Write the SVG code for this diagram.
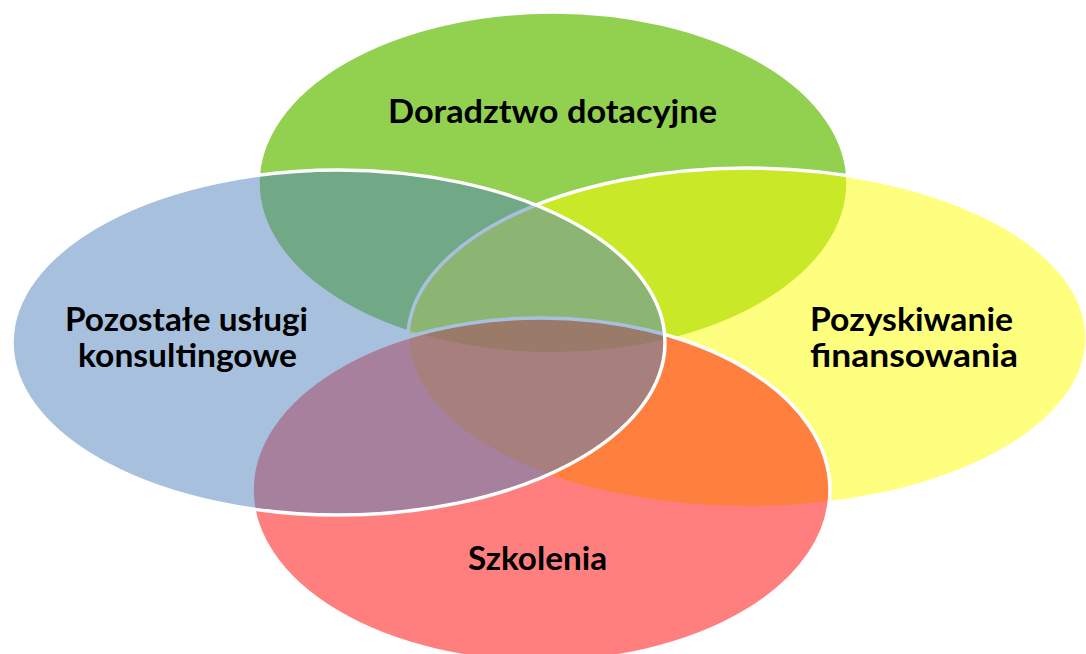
<svg xmlns="http://www.w3.org/2000/svg" width="1086" height="654" viewBox="0 0 1086 654">
  <style>
    .shape { stroke: #FFFFFF; stroke-width: 3.5; }
    .label { font-family: Lato, "Open Sans", "Liberation Sans", sans-serif; font-weight: 700; font-size: 33px; fill: #000000; }
  </style>
  <rect x="0" y="0" width="1086" height="654" fill="#FFFFFF"/>
  <g id="node-doradztwo">
    <ellipse class="shape" cx="553" cy="183" rx="295" ry="171" fill="#92D050"/>
    <text class="label" x="388" y="123" textLength="329" lengthAdjust="spacingAndGlyphs">Doradztwo dotacyjne</text>
  </g>
  <g id="node-pozyskiwanie">
    <ellipse class="shape" cx="747.5" cy="338" rx="339.5" ry="170" fill="#FFFF00" fill-opacity="0.5"/>
    <text class="label" x="810" y="331" textLength="203" lengthAdjust="spacingAndGlyphs">Pozyskiwanie</text>
    <text class="label" x="810" y="367" textLength="208" lengthAdjust="spacingAndGlyphs">finansowania</text>
  </g>
  <g id="node-szkolenia">
    <ellipse class="shape" cx="541" cy="490" rx="289" ry="172" fill="#FF0000" fill-opacity="0.5"/>
    <text class="label" x="468" y="570" textLength="139" lengthAdjust="spacingAndGlyphs">Szkolenia</text>
  </g>
  <g id="node-pozostale">
    <ellipse class="shape" cx="338.5" cy="342.5" rx="326.5" ry="172.5" fill="#4F81BD" fill-opacity="0.5"/>
    <text class="label" x="65" y="331" textLength="243" lengthAdjust="spacingAndGlyphs">Pozostałe usługi</text>
    <text class="label" x="78" y="367" textLength="219" lengthAdjust="spacingAndGlyphs">konsultingowe</text>
  </g>
  <g id="connectors"/>
</svg>
